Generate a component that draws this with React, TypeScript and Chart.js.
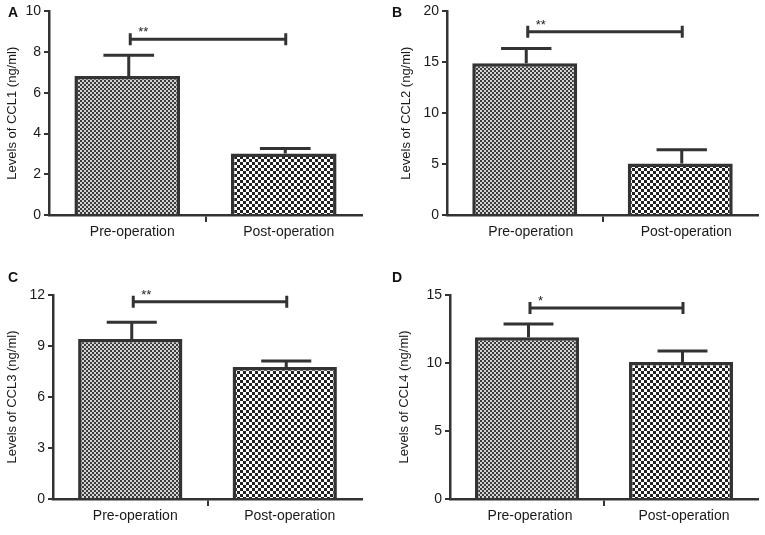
import React, { useEffect, useRef } from 'react';
import { Chart, registerables } from 'chart.js';

Chart.register(...registerables);

// ---- data ----
const categories = ['Pre-operation', 'Post-operation'];
const ccl1Means = [6.83, 3.02];
const ccl1Errors = [1.02, 0.25];
const ccl2Means = [14.9, 5.07];
const ccl2Errors = [1.46, 1.33];
const ccl3Means = [9.41, 7.76];
const ccl3Errors = [0.99, 0.36];
const ccl4Means = [11.9, 10.07];
const ccl4Errors = [0.97, 0.81];
const bracketLevels = [8.63, 18.0, 11.6, 14.04];
const significance = ['**', '**', '**', '*'];
const panelLetters = ['A', 'B', 'C', 'D'];
const yTitles = [
  'Levels of CCL1 (ng/ml)',
  'Levels of CCL2 (ng/ml)',
  'Levels of CCL3 (ng/ml)',
  'Levels of CCL4 (ng/ml)',
];
const yMaxes = [10, 20, 12, 15];
const ySteps = [2, 5, 3, 5];
const panelMeans = [ccl1Means, ccl2Means, ccl3Means, ccl4Means];
const panelErrors = [ccl1Errors, ccl2Errors, ccl3Errors, ccl4Errors];

// ---- layout (positions only) ----
const layouts = [
  { left: 0, top: 0, w: 380, h: 260, padL: 0, axisW: 49, padR: 18, padT: 10, axisH: 30, padB: 15, letterX: 8, letterY: 4, labelOff: 5 },
  { left: 380, top: 0, w: 385, h: 260, padL: 14, axisW: 53, padR: 7, padT: 10, axisH: 30, padB: 15, letterX: 12, letterY: 4, labelOff: 6 },
  { left: 0, top: 260, w: 380, h: 275, padL: 0, axisW: 53, padR: 18, padT: 35, axisH: 30, padB: 6, letterX: 8, letterY: 9, labelOff: 5 },
  { left: 380, top: 260, w: 385, h: 275, padL: 12, axisW: 58, padR: 7, padT: 35, axisH: 30, padB: 6, letterX: 12, letterY: 9, labelOff: 3 },
];

const FONT = '"Liberation Sans", Arial, sans-serif';
const DARK = '#333333';

function makePattern(size: number, dark: string, light: string) {
  const c = document.createElement('canvas');
  c.width = size * 2;
  c.height = size * 2;
  const g = c.getContext('2d')!;
  g.fillStyle = light;
  g.fillRect(0, 0, size * 2, size * 2);
  g.fillStyle = dark;
  g.fillRect(0, 0, size, size);
  g.fillRect(size, size, size, size);
  return g.createPattern(c, 'repeat')!;
}

const errorBarPlugin = {
  id: 'errorBars',
  afterDatasetsDraw(chart: any, _args: any, opts: any) {
    const { ctx } = chart;
    const y = chart.scales.y;
    const meta = chart.getDatasetMeta(0);
    const ds = chart.data.datasets[0];
    ctx.save();
    ctx.strokeStyle = DARK;
    ctx.lineWidth = 3;
    meta.data.forEach((bar: any, i: number) => {
      const v = ds.data[i] as number;
      const e = opts.errors[i];
      const top = y.getPixelForValue(v + e);
      const cx = bar.x + 1.5;
      const half = bar.width * 0.24;
      ctx.beginPath();
      ctx.moveTo(cx, bar.y);
      ctx.lineTo(cx, top);
      ctx.moveTo(cx - half, top);
      ctx.lineTo(cx + half, top);
      ctx.stroke();
    });
    const by = y.getPixelForValue(opts.bracket);
    const x0 = meta.data[0].x + 3;
    const x1 = meta.data[1].x + 2;
    ctx.beginPath();
    ctx.moveTo(x0, by);
    ctx.lineTo(x1, by);
    ctx.moveTo(x0, by - 6);
    ctx.lineTo(x0, by + 6);
    ctx.moveTo(x1, by - 6);
    ctx.lineTo(x1, by + 6);
    ctx.stroke();
    ctx.fillStyle = '#222';
    ctx.font = `13px ${FONT}`;
    ctx.textAlign = 'left';
    ctx.textBaseline = 'alphabetic';
    ctx.fillText(opts.stars, x0 + 8, by - 3);
    ctx.restore();
  },
};

function Panel({ idx }: { idx: number }) {
  const ref = useRef<HTMLCanvasElement>(null);
  const L = layouts[idx];
  useEffect(() => {
    const canvas = ref.current!;
    const p1 = makePattern(2, '#3c3c3c', '#d4d4d4');
    const p2 = makePattern(3, '#222222', '#ffffff');
    const chart = new Chart(canvas, {
      type: 'bar',
      data: {
        labels: categories,
        datasets: [
          {
            data: panelMeans[idx],
            backgroundColor: [p1, p2] as any,
            borderColor: DARK,
            borderWidth: 3.5,
            borderSkipped: 'start',
            categoryPercentage: 1,
            barPercentage: 0.675,
          },
        ],
      },
      options: {
        responsive: false,
        animation: false,
        devicePixelRatio: 1,
        layout: { padding: { left: L.padL, right: L.padR, top: L.padT, bottom: L.padB } },
        plugins: {
          legend: { display: false },
          tooltip: { enabled: false },
          errorBars: { errors: panelErrors[idx], bracket: bracketLevels[idx], stars: significance[idx] },
        } as any,
        scales: {
          x: {
            type: 'category',
            offset: true,
            grid: {
              offset: true,
              drawOnChartArea: false,
              drawTicks: true,
              tickLength: 7,
              lineWidth: 2,
              color: (ctx: any) => (ctx.index === 1 ? DARK : 'rgba(0,0,0,0)'),
            },
            border: { display: true, color: DARK, width: 2.5 },
            ticks: { color: '#1a1a1a', font: { family: FONT, size: 14 }, padding: 2, maxRotation: 0, labelOffset: L.labelOff },
            afterFit: (s: any) => {
              s.height = L.axisH;
            },
          },
          y: {
            min: 0,
            max: yMaxes[idx],
            ticks: { stepSize: ySteps[idx], color: '#1a1a1a', font: { family: FONT, size: 14 }, padding: 3 },
            grid: { drawOnChartArea: false, drawTicks: true, tickLength: 5, lineWidth: 2, color: DARK },
            border: { display: true, color: DARK, width: 2.5 },
            title: {
              display: true,
              text: yTitles[idx],
              color: '#1a1a1a',
              font: { family: FONT, size: 13 },
              padding: { top: 5, bottom: 0 },
            },
            afterFit: (s: any) => {
              s.width = L.axisW;
            },
          },
        },
      },
      plugins: [errorBarPlugin as any],
    });
    return () => chart.destroy();
  }, [idx]);
  return (
    <div style={{ position: 'absolute', left: L.left, top: L.top, width: L.w, height: L.h }}>
      <canvas ref={ref} width={L.w} height={L.h} style={{ width: L.w, height: L.h, display: 'block' }} />
      <div
        style={{
          position: 'absolute',
          left: L.letterX,
          top: L.letterY,
          fontFamily: FONT,
          fontWeight: 'bold',
          fontSize: 14,
          color: '#111',
        }}
      >
        {panelLetters[idx]}
      </div>
    </div>
  );
}

export default function App() {
  return (
    <div style={{ position: 'absolute', left: 0, top: 0, width: 765, height: 535, background: '#fff' }}>
      {[0, 1, 2, 3].map((i) => (
        <Panel key={i} idx={i} />
      ))}
    </div>
  );
}
